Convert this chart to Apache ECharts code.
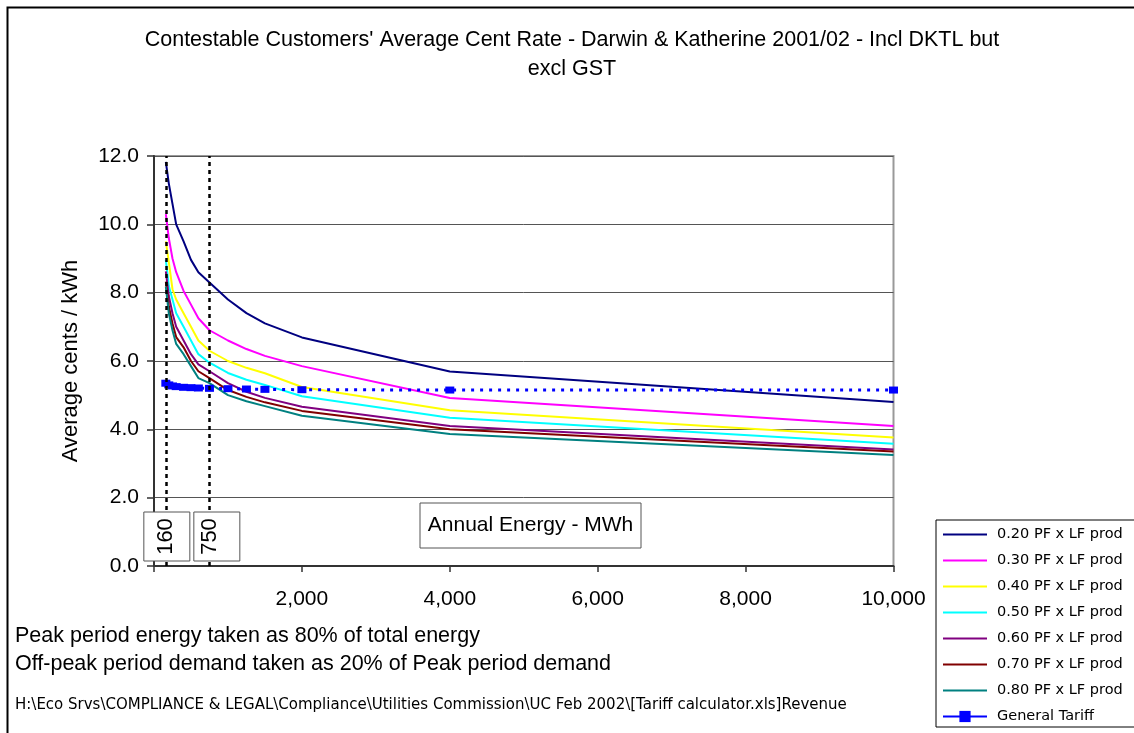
<!DOCTYPE html>
<html><head><meta charset="utf-8">
<script src="https://cdn.jsdelivr.net/npm/echarts@6/dist/echarts.min.js"></script>
<style>html,body{margin:0;padding:0;background:#fff}#c{width:1134px;height:733px}</style>
</head><body><div id="c"></div>
<script>
// ---- data ----
const energyMWh = [160, 200, 250, 300, 400, 500, 600, 750, 1000, 1250, 1500, 2000, 4000, 10000];
const pf020 = [11.83, 11.2, 10.6, 10.0, 9.5, 8.96, 8.6, 8.3, 7.8, 7.4, 7.1, 6.69, 5.69, 4.80];
const pf030 = [10.3, 9.6, 9.0, 8.6, 8.05, 7.65, 7.25, 6.9, 6.6, 6.35, 6.15, 5.85, 4.92, 4.10];
const pf040 = [9.5, 8.9, 8.1, 7.8, 7.4, 7.0, 6.6, 6.3, 6.0, 5.8, 5.64, 5.24, 4.56, 3.76];
const pf050 = [8.96, 8.2, 7.8, 7.4, 7.0, 6.6, 6.2, 5.95, 5.65, 5.45, 5.3, 4.97, 4.34, 3.58];
const pf060 = [8.62, 7.9, 7.4, 7.0, 6.6, 6.2, 5.9, 5.7, 5.35, 5.1, 4.92, 4.66, 4.10, 3.41];
const pf070 = [8.32, 7.6, 7.1, 6.7, 6.4, 6.0, 5.7, 5.5, 5.15, 4.95, 4.79, 4.54, 4.0, 3.35];
const pf080 = [8.18, 7.4, 6.9, 6.5, 6.2, 5.85, 5.5, 5.35, 5.0, 4.82, 4.68, 4.40, 3.86, 3.25];
const generalTariff = [5.35, 5.30, 5.27, 5.25, 5.23, 5.22, 5.21, 5.20, 5.19, 5.18, 5.17, 5.16, 5.15, 5.15];
const seriesNames = ['0.20 PF x LF prod', '0.30 PF x LF prod', '0.40 PF x LF prod', '0.50 PF x LF prod',
  '0.60 PF x LF prod', '0.70 PF x LF prod', '0.80 PF x LF prod', 'General Tariff'];
const referenceEnergy = [160, 750];
const yTicks = [0, 2, 4, 6, 8, 10, 12];
const xTicks = [0, 2000, 4000, 6000, 8000, 10000];

const titleLines = ["Contestable Customers' Average Cent Rate - Darwin & Katherine 2001/02 - Incl DKTL but", 'excl GST'];
const noteLines = ['Peak period energy taken as 80% of total energy',
  'Off-peak period demand taken as 20% of Peak period demand'];
const pathText = 'H:\\Eco Srvs\\COMPLIANCE & LEGAL\\Compliance\\Utilities Commission\\UC Feb 2002\\[Tariff calculator.xls]Revenue';

// ---- chart ----
const colors = ['#000080', '#FF00FF', '#FFFF00', '#00FFFF', '#800080', '#800000', '#008080', '#0000FF'];
const curveData = [pf020, pf030, pf040, pf050, pf060, pf070, pf080];
const zip = arr => energyMWh.map((x, i) => [x, arr[i]]);
const FONT = '"Liberation Sans", Arial, sans-serif';

const series = curveData.map((arr, i) => ({
  name: seriesNames[i], type: 'line', data: zip(arr), symbol: 'none',
  lineStyle: { width: 2, color: colors[i] }, itemStyle: { color: colors[i] },
  z: 3, silent: true, animation: false
}));
series.push({
  name: seriesNames[7], type: 'line', data: zip(generalTariff), symbol: 'rect', symbolSize: [9, 7],
  lineStyle: { width: 3, color: colors[7], type: [3, 6] }, itemStyle: { color: colors[7] },
  z: 4, silent: true, animation: false
});
series.push({
  name: 'ref', type: 'line', data: [], silent: true, animation: false,
  markLine: {
    symbol: 'none', silent: true, animation: false, label: { show: false },
    lineStyle: { color: '#000', width: 2.5, type: [4, 4] },
    data: referenceEnergy.map(v => ({ xAxis: v }))
  }
});

const chart = echarts.init(document.getElementById('c'), null, { renderer: 'canvas' });
chart.setOption({
  animation: false,
  color: colors,
  grid: { left: 154, top: 156, width: 739.5, height: 410, show: true, borderColor: '#999', borderWidth: 2, backgroundColor: 'transparent' },
  xAxis: {
    type: 'value', min: xTicks[0], max: xTicks[xTicks.length - 1], interval: 2000,
    axisLine: { show: true, lineStyle: { color: '#333', width: 2 } },
    axisTick: { show: true, length: 6, lineStyle: { color: '#333', width: 1.5 } },
    splitLine: { show: false },
    axisLabel: { margin: 23, color: '#000', fontFamily: FONT, fontSize: 21,
      formatter: v => v === 0 ? '' : v.toLocaleString('en-US') }
  },
  yAxis: {
    type: 'value', min: yTicks[0], max: yTicks[yTicks.length - 1], interval: 2,
    name: 'Average cents / kWh', nameLocation: 'middle', nameGap: 72, nameRotate: 90,
    nameTextStyle: { fontFamily: FONT, fontSize: 22, color: '#000' },
    axisLine: { show: true, lineStyle: { color: '#333', width: 2 } },
    axisTick: { show: true, length: 7, lineStyle: { color: '#333', width: 1.5 } },
    splitLine: { show: true, lineStyle: { color: '#555', width: 1 } },
    axisLabel: { margin: 15, color: '#000', fontFamily: FONT, fontSize: 21, formatter: v => v.toFixed(1) }
  },
  legend: {
    orient: 'vertical', left: 936, top: 520, itemWidth: 44, itemHeight: 14, itemGap: 11,
    padding: [7, 14, 3, 6], borderColor: '#000', borderWidth: 1, backgroundColor: '#fff',
    textStyle: { fontFamily: '"DejaVu Sans", Verdana, sans-serif', fontSize: 14.5, color: '#000', padding: [0, 0, 0, 5] },
    data: seriesNames.map((n, i) => i < 7
      ? { name: n, lineStyle: { type: 'solid', width: 2 }, itemStyle: { opacity: 0, color: 'rgba(0,0,0,0)', borderWidth: 0 } }
      : { name: n, lineStyle: { type: 'solid', width: 2 } })
  },
  series: series
});

// annotations positioned through the chart's own scales
const gfx = [];
gfx.push({ type: 'rect', left: 5, top: 5, shape: { width: 1200, height: 800 }, style: { fill: 'none', stroke: '#000', lineWidth: 2 }, silent: true, z: 0 });
titleLines.forEach((t, i) => gfx.push({ type: 'text', x: 572, y: 40 + i * 29,
  style: { text: t, fontFamily: FONT, fontSize: 21.5, fill: '#000', align: 'center', verticalAlign: 'middle' } }));
noteLines.forEach((t, i) => gfx.push({ type: 'text', left: 15, top: 625 + i * 28, style: { text: t, fontFamily: FONT, fontSize: 21.5, fill: '#000' } }));
gfx.push({ type: 'text', left: 15, top: 698, style: { text: pathText, fontFamily: '"DejaVu Sans", sans-serif', fontSize: 15, fill: '#000' } });

const boxW = 46, boxH = 49;
let prevRight = -Infinity;
referenceEnergy.forEach(v => {
  const p = chart.convertToPixel({ xAxisIndex: 0, yAxisIndex: 0 }, [v, 0]);
  let left = Math.max(p[0] - boxW / 2 + 1, prevRight + 4);
  prevRight = left + boxW;
  const bottom = p[1] - 5;
  gfx.push({ type: 'rect', shape: { x: left, y: bottom - boxH, width: boxW, height: boxH },
    style: { fill: '#fff', stroke: '#555', lineWidth: 1 }, z: 20 });
  gfx.push({ type: 'text', x: p[0] + 0.5, y: bottom - boxH / 2, rotation: Math.PI / 2,
    style: { text: String(v), fontFamily: FONT, fontSize: 22, fill: '#000', align: 'center', verticalAlign: 'middle' }, z: 21 });
});
// axis title box
gfx.push({ type: 'rect', shape: { x: 420, y: 503, width: 221, height: 45 }, style: { fill: '#fff', stroke: '#555', lineWidth: 1 }, z: 20 });
gfx.push({ type: 'text', x: 530.5, y: 525.5, style: { text: 'Annual Energy - MWh', fontFamily: FONT, fontSize: 21, fill: '#000', align: 'center', verticalAlign: 'middle' }, z: 21 });
chart.setOption({ graphic: gfx });
</script>
</body></html>
